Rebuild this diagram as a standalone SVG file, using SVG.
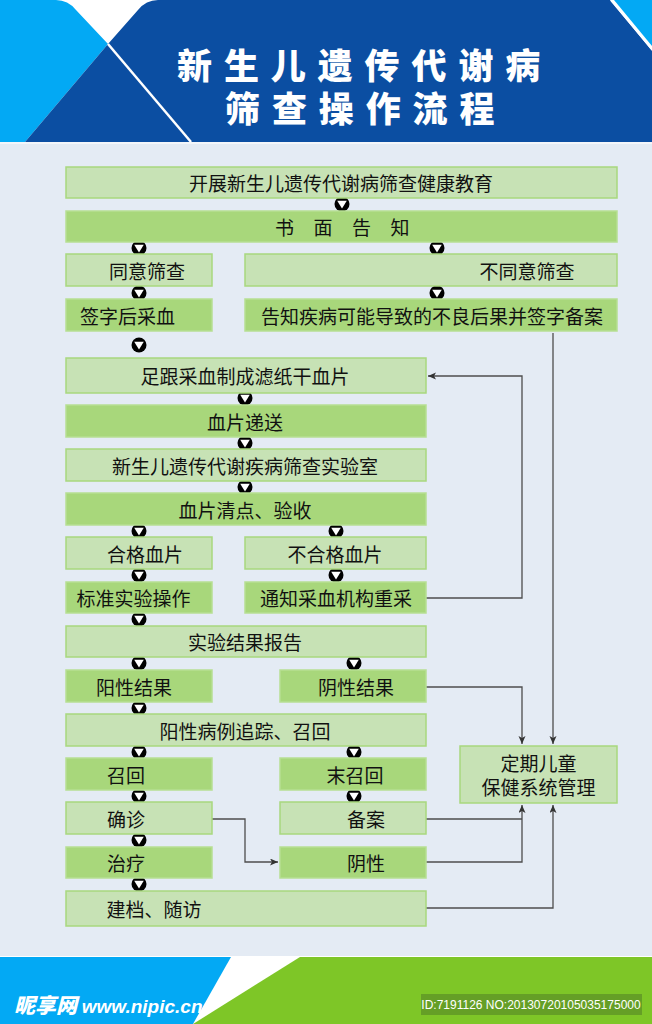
<svg xmlns="http://www.w3.org/2000/svg" xmlns:xlink="http://www.w3.org/1999/xlink" width="652" height="1024" viewBox="0 0 652 1024">
<style>
.lt{fill:#c7e2b5;stroke:#a8d87e;stroke-width:1.5}
.dk{fill:#a8d77b;stroke:#b6df92;stroke-width:1.5}
.t{font-family:"Noto Sans CJK SC","Noto Sans",sans-serif;font-size:19px;fill:#111;text-anchor:middle;dominant-baseline:central}
.ttl{font-family:"Noto Sans CJK SC",sans-serif;font-size:35px;font-weight:900;fill:#fff;letter-spacing:11.9px}
.cn{fill:none;stroke:#4d4d4d;stroke-width:1.3}
</style>
<defs>
<g id="mk"><circle cx="0" cy="0" r="7.5" fill="#000"/><path d="M-4.8,-3.2 L4.8,-3.2 L0,4.6 Z" fill="#fff"/></g>
<marker id="ar" markerUnits="userSpaceOnUse" markerWidth="9" markerHeight="8" refX="8" refY="3.5" orient="auto"><path d="M0,0 L8,3.5 L0,7 L2,3.5 Z" fill="#333"/></marker>
</defs>
<!-- background -->
<rect x="0" y="0" width="652" height="1024" fill="#e4ebf4"/>
<!-- header -->
<g id="header">
<rect x="0" y="0" width="652" height="142" fill="#ffffff"/>
<path d="M0,0 H56 Q68,0 76,10 L108,44 L25,142 H0 Z" fill="#03a9f4"/>
<path d="M25,142 L108,44 L138,10 Q146,0 158,0 H610 L652,51 V142 Z" fill="#0b4ea2"/>
<path d="M614,0 H652 V46 Z" fill="#03a9f4"/>
<line x1="108" y1="44" x2="191" y2="142" stroke="#fff" stroke-width="2.5"/>
<line x1="611" y1="0" x2="652" y2="49" stroke="#fff" stroke-width="2"/>
<rect x="0" y="142" width="652" height="2" fill="#f3f6fa"/>
<text class="ttl"><tspan x="177" y="78.5">新生儿遗传代谢病</tspan><tspan x="225" y="121.5">筛查操作流程</tspan></text>
</g>
<!-- footer -->
<g id="footer">
<rect x="0" y="956" width="652" height="68" fill="#ffffff"/>
<path d="M0,957 H231 L193,1024 H0 Z" fill="#03a9f4"/>
<path d="M300,957 H652 V1024 H193 Z" fill="#7ec627"/>
<rect x="421" y="994" width="221" height="21" fill="#659f26"/>
<text x="531" y="1008.5" font-family="Liberation Sans,sans-serif" font-size="12" fill="#fff" text-anchor="middle">ID:7191126 NO:20130720105035175000</text>
<text x="14" y="1013" font-family="Noto Sans CJK SC,sans-serif" font-size="21" font-weight="900" font-style="italic" fill="#fff">昵享网 <tspan font-family="Liberation Sans,sans-serif" font-size="19" font-weight="bold">www.nipic.cn</tspan></text>
</g>
<!-- connectors -->
<g id="connectors">
<path class="cn" d="M426,598 H522 V376 H428" marker-end="url(#ar)"/>
<path class="cn" d="M553,333 V744" marker-end="url(#ar)"/>
<path class="cn" d="M426,687 H522 V744" marker-end="url(#ar)"/>
<path class="cn" d="M426,819 H522"/>
<path class="cn" d="M426,862 H522 V805" marker-end="url(#ar)"/>
<path class="cn" d="M212,819 H245 V862 H278" marker-end="url(#ar)"/>
<path class="cn" d="M426,908 H553 V805" marker-end="url(#ar)"/>
<use xlink:href="#mk" x="342" y="204"/>
<use xlink:href="#mk" x="139" y="248"/>
<use xlink:href="#mk" x="437" y="248"/>
<use xlink:href="#mk" x="139" y="293"/>
<use xlink:href="#mk" x="437" y="293"/>
<use xlink:href="#mk" x="139" y="345"/>
<use xlink:href="#mk" x="245" y="398"/>
<use xlink:href="#mk" x="245" y="443"/>
<use xlink:href="#mk" x="245" y="487"/>
<use xlink:href="#mk" x="139" y="531"/>
<use xlink:href="#mk" x="336" y="531"/>
<use xlink:href="#mk" x="139" y="575"/>
<use xlink:href="#mk" x="336" y="575"/>
<use xlink:href="#mk" x="139" y="619"/>
<use xlink:href="#mk" x="139" y="663"/>
<use xlink:href="#mk" x="354" y="663"/>
<use xlink:href="#mk" x="139" y="708"/>
<use xlink:href="#mk" x="139" y="752"/>
<use xlink:href="#mk" x="354" y="752"/>
<use xlink:href="#mk" x="139" y="796"/>
<use xlink:href="#mk" x="354" y="796"/>
<use xlink:href="#mk" x="139" y="840"/>
<use xlink:href="#mk" x="139" y="884"/>
</g>
<!-- nodes -->
<g id="n1"><rect class="lt" x="66" y="167" width="551" height="31"/><text class="t" x="341" y="182.5">开展新生儿遗传代谢病筛查健康教育</text></g>
<g id="n2"><rect class="dk" x="66" y="211" width="551" height="31"/><text class="t" style="text-anchor:start" x="275 294 313.5 332 352 371 390.5" y="226.5">书 面 告 知</text></g>
<g id="n3a"><rect class="lt" x="66" y="254" width="146" height="32"/><text class="t" x="147" y="270">同意筛查</text></g>
<g id="n3b"><rect class="lt" x="245" y="254" width="372" height="32"/><text class="t" x="527" y="270">不同意筛查</text></g>
<g id="n4a"><rect class="dk" x="66" y="299" width="146" height="32"/><text class="t" x="127.5" y="315">签字后采血</text></g>
<g id="n4b"><rect class="dk" x="245" y="299" width="372" height="32"/><text class="t" x="432" y="315">告知疾病可能导致的不良后果并签字备案</text></g>
<g id="n5"><rect class="lt" x="66" y="358" width="360" height="35"/><text class="t" x="245" y="375.5">足跟采血制成滤纸干血片</text></g>
<g id="n6"><rect class="dk" x="66" y="405" width="360" height="32"/><text class="t" x="245" y="421">血片递送</text></g>
<g id="n7"><rect class="lt" x="66" y="449" width="360" height="32"/><text class="t" x="245" y="465">新生儿遗传代谢疾病筛查实验室</text></g>
<g id="n8"><rect class="dk" x="66" y="493" width="360" height="32"/><text class="t" x="245" y="509">血片清点、验收</text></g>
<g id="n9a"><rect class="lt" x="66" y="537" width="146" height="32"/><text class="t" x="145" y="553">合格血片</text></g>
<g id="n9b"><rect class="lt" x="245" y="537" width="181" height="32"/><text class="t" x="335" y="553">不合格血片</text></g>
<g id="n10a"><rect class="dk" x="66" y="582" width="146" height="31"/><text class="t" x="133.5" y="597.5">标准实验操作</text></g>
<g id="n10b"><rect class="dk" x="245" y="582" width="181" height="31"/><text class="t" x="336" y="597.5">通知采血机构重采</text></g>
<g id="n11"><rect class="lt" x="66" y="626" width="360" height="31"/><text class="t" x="245" y="641.5">实验结果报告</text></g>
<g id="n12a"><rect class="dk" x="66" y="670" width="146" height="32"/><text class="t" x="134" y="686">阳性结果</text></g>
<g id="n12b"><rect class="dk" x="280" y="670" width="146" height="32"/><text class="t" x="356" y="686">阴性结果</text></g>
<g id="n13"><rect class="lt" x="66" y="714" width="360" height="32"/><text class="t" x="245" y="730">阳性病例追踪、召回</text></g>
<g id="n14a"><rect class="dk" x="66" y="758" width="146" height="32"/><text class="t" x="126" y="774">召回</text></g>
<g id="n14b"><rect class="dk" x="280" y="758" width="146" height="32"/><text class="t" x="355" y="774">末召回</text></g>
<g id="n15a"><rect class="lt" x="66" y="802" width="146" height="32"/><text class="t" x="126" y="818">确诊</text></g>
<g id="n15b"><rect class="lt" x="280" y="802" width="146" height="32"/><text class="t" x="366" y="818">备案</text></g>
<g id="n16a"><rect class="dk" x="66" y="847" width="146" height="31"/><text class="t" x="126" y="862.5">治疗</text></g>
<g id="n16b"><rect class="dk" x="280" y="847" width="146" height="31"/><text class="t" x="366" y="862.5">阴性</text></g>
<g id="n17"><rect class="lt" x="66" y="891" width="360" height="35"/><text class="t" x="154" y="908.5">建档、随访</text></g>
<g id="nr"><rect class="lt" x="460" y="746" width="157" height="57"/><text class="t" x="538.5" y="762">定期儿童</text><text class="t" x="538.5" y="786.5">保健系统管理</text></g>
</svg>
